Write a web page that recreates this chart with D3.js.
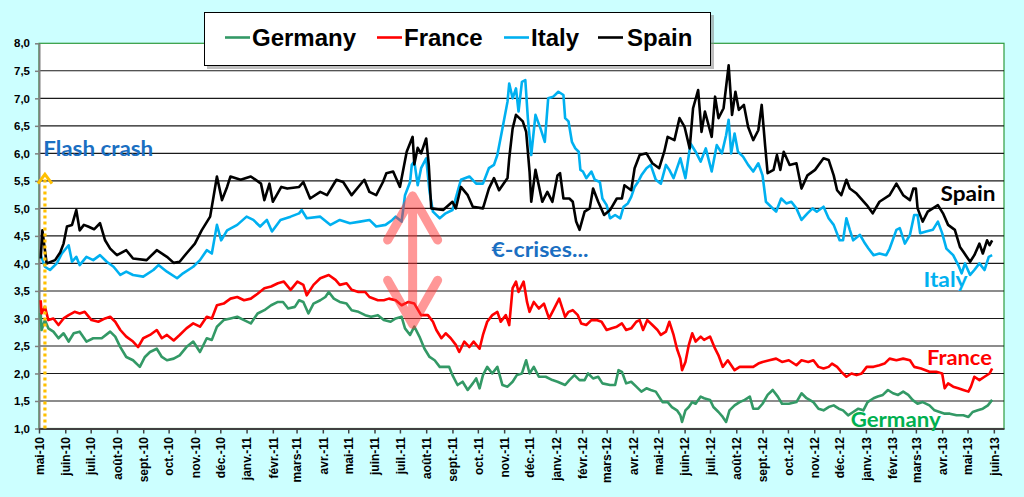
<!DOCTYPE html>
<html>
<head>
<meta charset="utf-8">
<script src="https://cdn.jsdelivr.net/npm/d3@7"></script>
<style>
  body { margin: 0; background: #ccffff; }
  svg { display: block; font-family: 'Liberation Sans', Arial, sans-serif; }
  .axis text { font-size: 11.5px; font-weight: bold; fill: #000; }
  .xaxis text { font-size: 12px; }
  .note { font-family: Lato, 'Open Sans', sans-serif; font-weight: bold; }
  .legend text { font-size: 24px; font-weight: bold; }
</style>
</head>
<body>
<div class="chart"></div>
<script>
// 10y government bond yields (%)
const germany = [
  ['2010-05-03', 3.1], ['2010-05-04', 2.79], ['2010-05-08', 2.97], ['2010-05-12', 2.82], ['2010-05-18', 2.76], ['2010-05-24', 2.64],
  ['2010-05-30', 2.73], ['2010-06-05', 2.58], ['2010-06-11', 2.73], ['2010-06-18', 2.76], ['2010-06-26', 2.58], ['2010-07-04', 2.64],
  ['2010-07-14', 2.64], ['2010-07-24', 2.76], ['2010-07-30', 2.67], ['2010-08-05', 2.48], ['2010-08-12', 2.3], ['2010-08-20', 2.24],
  ['2010-08-28', 2.12], ['2010-09-03', 2.3], ['2010-09-09', 2.39], ['2010-09-17', 2.45], ['2010-09-23', 2.3], ['2010-09-29', 2.24],
  ['2010-10-07', 2.27], ['2010-10-14', 2.33], ['2010-10-22', 2.48], ['2010-10-30', 2.58], ['2010-11-07', 2.39], ['2010-11-15', 2.64],
  ['2010-11-21', 2.61], ['2010-11-27', 2.85], ['2010-12-05', 2.97], ['2010-12-13', 3.0], ['2010-12-21', 3.03], ['2010-12-29', 2.97],
  ['2011-01-06', 2.91], ['2011-01-14', 3.09], ['2011-01-22', 3.15], ['2011-01-30', 3.24], ['2011-02-07', 3.3], ['2011-02-13', 3.3],
  ['2011-02-19', 3.18], ['2011-02-27', 3.21], ['2011-03-04', 3.33], ['2011-03-09', 3.3], ['2011-03-15', 3.09], ['2011-03-21', 3.27],
  ['2011-03-29', 3.33], ['2011-04-04', 3.39], ['2011-04-08', 3.48], ['2011-04-14', 3.36], ['2011-04-21', 3.3], ['2011-04-29', 3.27],
  ['2011-05-05', 3.15], ['2011-05-13', 3.12], ['2011-05-21', 3.06], ['2011-05-28', 3.03], ['2011-06-05', 3.06], ['2011-06-12', 2.97],
  ['2011-06-20', 2.94], ['2011-06-26', 3.0], ['2011-07-03', 3.03], ['2011-07-07', 2.82], ['2011-07-13', 2.7], ['2011-07-18', 2.85],
  ['2011-07-24', 2.67], ['2011-07-30', 2.45], ['2011-08-05', 2.3], ['2011-08-11', 2.24], ['2011-08-17', 2.12], ['2011-08-22', 2.12],
  ['2011-08-28', 2.12], ['2011-09-01', 1.97], ['2011-09-07', 1.79], ['2011-09-13', 1.85], ['2011-09-19', 1.7], ['2011-09-25', 1.82],
  ['2011-09-29', 1.91], ['2011-10-03', 1.73], ['2011-10-07', 1.97], ['2011-10-12', 2.12], ['2011-10-18', 2.0], ['2011-10-24', 2.12],
  ['2011-10-30', 1.79], ['2011-11-05', 1.76], ['2011-11-11', 1.85], ['2011-11-16', 1.97], ['2011-11-22', 2.0], ['2011-11-27', 2.24],
  ['2011-12-01', 2.0], ['2011-12-06', 2.12], ['2011-12-12', 1.94], ['2011-12-20', 1.94], ['2011-12-28', 1.88], ['2012-01-03', 1.85],
  ['2012-01-12', 1.79], ['2012-01-17', 1.88], ['2012-01-23', 1.97], ['2012-01-29', 1.88], ['2012-02-04', 1.88], ['2012-02-08', 2.0],
  ['2012-02-14', 1.91], ['2012-02-20', 1.94], ['2012-02-25', 1.82], ['2012-03-05', 1.79], ['2012-03-11', 1.79], ['2012-03-15', 2.06],
  ['2012-03-19', 2.03], ['2012-03-24', 1.82], ['2012-03-30', 1.85], ['2012-04-05', 1.76], ['2012-04-11', 1.67], ['2012-04-17', 1.73],
  ['2012-04-22', 1.7], ['2012-04-28', 1.67], ['2012-05-06', 1.48], ['2012-05-12', 1.48], ['2012-05-17', 1.39], ['2012-05-23', 1.33],
  ['2012-05-27', 1.24], ['2012-05-29', 1.12], ['2012-06-02', 1.33], ['2012-06-06', 1.39], ['2012-06-10', 1.48], ['2012-06-14', 1.45],
  ['2012-06-20', 1.58], ['2012-06-24', 1.55], ['2012-07-01', 1.52], ['2012-07-05', 1.39], ['2012-07-11', 1.3], ['2012-07-16', 1.21],
  ['2012-07-20', 1.12], ['2012-07-24', 1.33], ['2012-07-30', 1.42], ['2012-08-05', 1.48], ['2012-08-11', 1.52], ['2012-08-17', 1.58],
  ['2012-08-21', 1.36], ['2012-08-27', 1.36], ['2012-09-01', 1.45], ['2012-09-07', 1.61], ['2012-09-13', 1.7], ['2012-09-19', 1.58],
  ['2012-09-24', 1.45], ['2012-10-02', 1.45], ['2012-10-11', 1.48], ['2012-10-17', 1.64], ['2012-10-23', 1.55], ['2012-10-31', 1.48],
  ['2012-11-06', 1.36], ['2012-11-12', 1.33], ['2012-11-18', 1.39], ['2012-11-24', 1.42], ['2012-11-30', 1.36], ['2012-12-05', 1.33],
  ['2012-12-11', 1.24], ['2012-12-17', 1.3], ['2012-12-23', 1.36], ['2012-12-29', 1.33], ['2013-01-03', 1.48], ['2013-01-10', 1.55],
  ['2013-01-15', 1.58], ['2013-01-21', 1.61], ['2013-01-27', 1.7], ['2013-02-02', 1.64], ['2013-02-08', 1.61], ['2013-02-14', 1.67],
  ['2013-02-20', 1.61], ['2013-02-25', 1.52], ['2013-03-03', 1.45], ['2013-03-09', 1.48], ['2013-03-17', 1.42], ['2013-03-23', 1.33],
  ['2013-03-29', 1.3], ['2013-04-04', 1.27], ['2013-04-10', 1.27], ['2013-04-18', 1.24], ['2013-04-26', 1.24], ['2013-05-02', 1.21],
  ['2013-05-07', 1.3], ['2013-05-13', 1.33], ['2013-05-19', 1.36], ['2013-05-25', 1.42], ['2013-05-30', 1.52]
]

const france = [
  ['2010-05-03', 3.33], ['2010-05-04', 3.09], ['2010-05-08', 3.21], ['2010-05-12', 2.97], ['2010-05-18', 3.0], ['2010-05-24', 2.88],
  ['2010-05-30', 3.0], ['2010-06-05', 3.06], ['2010-06-12', 3.12], ['2010-06-18', 3.09], ['2010-06-24', 3.12], ['2010-07-02', 2.97],
  ['2010-07-10', 2.94], ['2010-07-18', 3.0], ['2010-07-24', 3.03], ['2010-07-30', 2.94], ['2010-08-05', 2.79], ['2010-08-12', 2.67],
  ['2010-08-20', 2.58], ['2010-08-26', 2.48], ['2010-09-01', 2.64], ['2010-09-09', 2.7], ['2010-09-17', 2.79], ['2010-09-23', 2.64],
  ['2010-09-29', 2.7], ['2010-10-07', 2.6], ['2010-10-14', 2.7], ['2010-10-22', 2.82], ['2010-10-30', 2.91], ['2010-11-07', 2.85],
  ['2010-11-15', 3.03], ['2010-11-21', 3.0], ['2010-11-27', 3.24], ['2010-12-05', 3.27], ['2010-12-13', 3.36], ['2010-12-21', 3.39],
  ['2010-12-29', 3.33], ['2011-01-06', 3.36], ['2011-01-14', 3.45], ['2011-01-22', 3.55], ['2011-01-30', 3.58], ['2011-02-07', 3.64],
  ['2011-02-14', 3.67], ['2011-02-22', 3.52], ['2011-03-02', 3.67], ['2011-03-09', 3.61], ['2011-03-13', 3.42], ['2011-03-21', 3.61],
  ['2011-03-29', 3.73], ['2011-04-08', 3.79], ['2011-04-16', 3.7], ['2011-04-21', 3.61], ['2011-04-29', 3.64], ['2011-05-05', 3.52],
  ['2011-05-13', 3.48], ['2011-05-21', 3.48], ['2011-05-26', 3.39], ['2011-06-05', 3.33], ['2011-06-12', 3.33], ['2011-06-18', 3.36],
  ['2011-06-26', 3.33], ['2011-07-03', 3.24], ['2011-07-11', 3.3], ['2011-07-18', 3.27], ['2011-07-26', 3.06], ['2011-08-03', 3.06],
  ['2011-08-09', 2.94], ['2011-08-13', 2.79], ['2011-08-19', 2.64], ['2011-08-24', 2.73], ['2011-08-30', 2.64], ['2011-09-05', 2.52],
  ['2011-09-09', 2.39], ['2011-09-15', 2.58], ['2011-09-21', 2.48], ['2011-09-26', 2.58], ['2011-10-03', 2.45], ['2011-10-07', 2.7],
  ['2011-10-12', 2.94], ['2011-10-18', 3.06], ['2011-10-24', 3.12], ['2011-10-28', 2.94], ['2011-11-03', 3.06], ['2011-11-07', 2.88],
  ['2011-11-11', 3.55], ['2011-11-15', 3.67], ['2011-11-18', 3.48], ['2011-11-24', 3.67], ['2011-11-28', 3.3], ['2011-12-01', 3.12],
  ['2011-12-06', 3.3], ['2011-12-12', 3.18], ['2011-12-18', 3.27], ['2011-12-24', 3.0], ['2011-12-30', 3.18], ['2012-01-05', 3.36],
  ['2012-01-12', 3.03], ['2012-01-16', 3.12], ['2012-01-21', 3.15], ['2012-01-27', 3.06], ['2012-01-31', 2.91], ['2012-02-06', 2.88],
  ['2012-02-12', 2.97], ['2012-02-18', 2.97], ['2012-02-24', 2.94], ['2012-03-01', 2.79], ['2012-03-07', 2.82], ['2012-03-13', 2.85],
  ['2012-03-19', 2.91], ['2012-03-24', 2.79], ['2012-03-30', 2.82], ['2012-04-05', 2.94], ['2012-04-09', 2.97], ['2012-04-13', 2.79],
  ['2012-04-18', 2.97], ['2012-04-24', 2.88], ['2012-04-30', 2.79], ['2012-05-04', 2.7], ['2012-05-10', 2.76], ['2012-05-14', 2.94],
  ['2012-05-19', 2.7], ['2012-05-23', 2.45], ['2012-05-27', 2.27], ['2012-05-29', 2.06], ['2012-06-02', 2.21], ['2012-06-06', 2.52],
  ['2012-06-10', 2.73], ['2012-06-14', 2.58], ['2012-06-20', 2.67], ['2012-06-24', 2.61], ['2012-07-01', 2.67], ['2012-07-07', 2.45],
  ['2012-07-11', 2.33], ['2012-07-16', 2.12], ['2012-07-22', 2.24], ['2012-07-30', 2.06], ['2012-08-05', 2.12], ['2012-08-13', 2.12],
  ['2012-08-21', 2.12], ['2012-08-27', 2.18], ['2012-09-01', 2.21], ['2012-09-09', 2.24], ['2012-09-17', 2.27], ['2012-09-24', 2.21],
  ['2012-10-02', 2.24], ['2012-10-11', 2.15], ['2012-10-17', 2.24], ['2012-10-25', 2.21], ['2012-10-31', 2.24], ['2012-11-06', 2.12],
  ['2012-11-12', 2.09], ['2012-11-18', 2.12], ['2012-11-22', 2.18], ['2012-11-28', 2.12], ['2012-12-03', 2.03], ['2012-12-09', 1.94],
  ['2012-12-15', 2.0], ['2012-12-21', 1.97], ['2012-12-27', 2.0], ['2013-01-02', 2.12], ['2013-01-10', 2.12], ['2013-01-17', 2.15],
  ['2013-01-23', 2.18], ['2013-01-29', 2.27], ['2013-02-06', 2.24], ['2013-02-14', 2.27], ['2013-02-22', 2.24], ['2013-02-27', 2.12],
  ['2013-03-07', 2.09], ['2013-03-17', 2.03], ['2013-03-25', 2.03], ['2013-04-01', 2.0], ['2013-04-04', 1.73], ['2013-04-08', 1.82],
  ['2013-04-14', 1.76], ['2013-04-20', 1.73], ['2013-04-26', 1.7], ['2013-05-02', 1.67], ['2013-05-05', 1.76], ['2013-05-09', 1.94],
  ['2013-05-15', 1.88], ['2013-05-21', 1.94], ['2013-05-27', 2.0], ['2013-05-30', 2.09]
]

const italy = [
  ['2010-05-03', 4.15], ['2010-05-08', 3.94], ['2010-05-14', 3.88], ['2010-05-22', 4.0], ['2010-05-28', 4.18], ['2010-06-05', 4.33],
  ['2010-06-09', 4.03], ['2010-06-14', 4.12], ['2010-06-18', 3.97], ['2010-06-26', 4.12], ['2010-07-04', 4.06], ['2010-07-12', 4.15],
  ['2010-07-20', 4.03], ['2010-07-28', 3.94], ['2010-08-05', 3.79], ['2010-08-12', 3.85], ['2010-08-20', 3.79], ['2010-09-01', 3.76],
  ['2010-09-13', 3.88], ['2010-09-19', 3.97], ['2010-09-29', 3.85], ['2010-10-11', 3.73], ['2010-10-18', 3.82], ['2010-10-30', 3.94],
  ['2010-11-07', 4.06], ['2010-11-15', 4.24], ['2010-11-21', 4.18], ['2010-11-27', 4.7], ['2010-12-02', 4.42], ['2010-12-09', 4.6],
  ['2010-12-21', 4.7], ['2011-01-01', 4.85], ['2011-01-09', 4.79], ['2011-01-17', 4.67], ['2011-01-25', 4.79], ['2011-01-31', 4.58],
  ['2011-02-10', 4.79], ['2011-02-22', 4.85], ['2011-03-04', 4.91], ['2011-03-07', 4.97], ['2011-03-13', 4.82], ['2011-03-29', 4.85],
  ['2011-04-10', 4.7], ['2011-04-21', 4.79], ['2011-05-03', 4.73], ['2011-05-15', 4.76], ['2011-05-26', 4.79], ['2011-06-03', 4.67],
  ['2011-06-14', 4.7], ['2011-06-22', 4.79], ['2011-06-26', 4.85], ['2011-07-03', 4.76], ['2011-07-07', 5.24], ['2011-07-13', 5.48],
  ['2011-07-15', 5.79], ['2011-07-18', 5.85], ['2011-07-22', 5.42], ['2011-07-26', 5.73], ['2011-08-01', 5.91], ['2011-08-05', 5.3],
  ['2011-08-09', 4.94], ['2011-08-17', 4.82], ['2011-08-24', 4.91], ['2011-09-01', 4.97], ['2011-09-07', 5.3], ['2011-09-11', 5.52],
  ['2011-09-21', 5.58], ['2011-09-29', 5.45], ['2011-10-07', 5.45], ['2011-10-14', 5.73], ['2011-10-20', 5.79], ['2011-10-24', 5.97],
  ['2011-10-30', 6.45], ['2011-11-05', 6.94], ['2011-11-07', 7.27], ['2011-11-11', 7.0], ['2011-11-15', 7.18], ['2011-11-18', 6.76],
  ['2011-11-22', 7.3], ['2011-11-26', 7.33], ['2011-11-29', 6.64], ['2011-12-03', 5.97], ['2011-12-08', 6.7], ['2011-12-14', 6.45],
  ['2011-12-19', 6.21], ['2011-12-23', 7.0], ['2011-12-29', 7.03], ['2012-01-04', 7.12], ['2012-01-10', 7.06], ['2012-01-12', 6.64],
  ['2012-01-16', 6.58], ['2012-01-20', 6.21], ['2012-01-24', 6.09], ['2012-01-28', 6.03], ['2012-01-30', 5.7], ['2012-02-02', 5.67],
  ['2012-02-06', 5.55], ['2012-02-12', 5.67], ['2012-02-16', 5.52], ['2012-02-22', 5.48], ['2012-02-25', 5.18], ['2012-03-01', 5.06],
  ['2012-03-05', 4.82], ['2012-03-11', 4.88], ['2012-03-17', 4.82], ['2012-03-21', 5.03], ['2012-03-26', 5.09], ['2012-03-30', 5.21],
  ['2012-04-03', 5.39], ['2012-04-07', 5.48], ['2012-04-11', 5.6], ['2012-04-17', 5.73], ['2012-04-22', 5.79], ['2012-04-28', 5.52],
  ['2012-05-04', 5.45], ['2012-05-10', 5.79], ['2012-05-14', 5.7], ['2012-05-19', 5.55], ['2012-05-27', 5.91], ['2012-06-02', 5.55],
  ['2012-06-08', 6.18], ['2012-06-14', 6.03], ['2012-06-20', 5.85], ['2012-06-26', 6.09], ['2012-07-03', 5.67], ['2012-07-09', 6.15],
  ['2012-07-15', 6.0], ['2012-07-20', 6.33], ['2012-07-23', 6.61], ['2012-07-26', 6.0], ['2012-07-30', 6.36], ['2012-08-03', 6.03],
  ['2012-08-09', 5.94], ['2012-08-15', 5.79], ['2012-08-21', 5.67], ['2012-08-27', 5.82], ['2012-09-01', 5.6], ['2012-09-05', 5.12],
  ['2012-09-11', 5.03], ['2012-09-17', 4.94], ['2012-09-23', 5.18], ['2012-09-29', 5.09], ['2012-10-05', 5.12], ['2012-10-11', 5.0],
  ['2012-10-17', 4.79], ['2012-10-24', 4.91], ['2012-10-30', 5.0], ['2012-11-04', 4.94], ['2012-11-12', 5.03], ['2012-11-18', 4.82],
  ['2012-11-24', 4.7], ['2012-12-01', 4.42], ['2012-12-05', 4.42], ['2012-12-09', 4.82], ['2012-12-13', 4.61], ['2012-12-17', 4.42],
  ['2012-12-25', 4.52], ['2012-12-31', 4.36], ['2013-01-04', 4.27], ['2013-01-10', 4.15], ['2013-01-17', 4.18], ['2013-01-25', 4.15],
  ['2013-01-29', 4.27], ['2013-02-06', 4.61], ['2013-02-10', 4.64], ['2013-02-16', 4.36], ['2013-02-22', 4.52], ['2013-02-27', 4.88],
  ['2013-03-03', 4.88], ['2013-03-06', 4.55], ['2013-03-13', 4.58], ['2013-03-21', 4.61], ['2013-03-27', 4.76], ['2013-04-01', 4.55],
  ['2013-04-06', 4.27], ['2013-04-14', 4.15], ['2013-04-20', 3.97], ['2013-04-24', 3.82], ['2013-04-28', 4.0], ['2013-05-04', 3.79],
  ['2013-05-09', 3.88], ['2013-05-15', 4.0], ['2013-05-21', 3.88], ['2013-05-26', 4.12], ['2013-05-30', 4.15]
]

const spain = [
  ['2010-05-03', 4.09], ['2010-05-05', 4.6], ['2010-05-10', 4.0], ['2010-05-20', 4.06], ['2010-05-26', 4.2], ['2010-05-30', 4.36],
  ['2010-06-03', 4.67], ['2010-06-09', 4.7], ['2010-06-14', 4.97], ['2010-06-18', 4.6], ['2010-06-23', 4.7], ['2010-06-28', 4.67],
  ['2010-07-05', 4.62], ['2010-07-12', 4.73], ['2010-07-18', 4.42], ['2010-07-24', 4.27], ['2010-08-01', 4.15], ['2010-08-12', 4.24],
  ['2010-08-20', 4.09], ['2010-09-05', 4.06], ['2010-09-17', 4.24], ['2010-09-29', 4.12], ['2010-10-07', 4.01], ['2010-10-14', 4.03],
  ['2010-10-22', 4.18], ['2010-11-01', 4.36], ['2010-11-09', 4.6], ['2010-11-19', 4.85], ['2010-11-23', 5.21], ['2010-11-27', 5.58],
  ['2010-12-03', 5.15], ['2010-12-09', 5.39], ['2010-12-13', 5.58], ['2010-12-25', 5.52], ['2011-01-06', 5.58], ['2011-01-18', 5.45],
  ['2011-01-22', 5.15], ['2011-01-28', 5.45], ['2011-02-01', 5.12], ['2011-02-11', 5.39], ['2011-02-18', 5.36], ['2011-03-04', 5.39],
  ['2011-03-09', 5.48], ['2011-03-17', 5.18], ['2011-03-29', 5.3], ['2011-04-06', 5.24], ['2011-04-17', 5.52], ['2011-04-25', 5.48],
  ['2011-05-05', 5.24], ['2011-05-20', 5.52], ['2011-05-26', 5.3], ['2011-06-03', 5.24], ['2011-06-11', 5.48], ['2011-06-15', 5.64],
  ['2011-06-23', 5.67], ['2011-07-01', 5.39], ['2011-07-09', 6.03], ['2011-07-16', 6.3], ['2011-07-18', 5.8], ['2011-07-22', 6.1],
  ['2011-07-26', 6.0], ['2011-08-01', 6.27], ['2011-08-04', 5.8], ['2011-08-07', 5.0], ['2011-08-21', 4.97], ['2011-09-01', 5.12],
  ['2011-09-05', 5.0], ['2011-09-11', 5.39], ['2011-09-19', 5.24], ['2011-09-25', 5.03], ['2011-10-07', 5.0], ['2011-10-14', 5.36],
  ['2011-10-20', 5.55], ['2011-10-26', 5.33], ['2011-11-05', 5.55], ['2011-11-07', 5.91], ['2011-11-11', 6.45], ['2011-11-15', 6.7],
  ['2011-11-23', 6.58], ['2011-11-27', 6.39], ['2011-12-01', 5.67], ['2011-12-03', 5.12], ['2011-12-08', 5.7], ['2011-12-16', 5.12],
  ['2011-12-22', 5.3], ['2011-12-28', 5.12], ['2012-01-03', 5.6], ['2012-01-06', 5.64], ['2012-01-10', 5.18], ['2012-01-17', 5.18],
  ['2012-01-21', 5.12], ['2012-01-25', 4.76], ['2012-01-29', 4.61], ['2012-02-04', 4.94], ['2012-02-10', 5.0], ['2012-02-14', 5.36],
  ['2012-02-20', 5.12], ['2012-02-27', 4.88], ['2012-03-05', 4.97], ['2012-03-13', 5.18], ['2012-03-19', 5.18], ['2012-03-22', 5.42],
  ['2012-03-30', 5.33], ['2012-04-03', 5.73], ['2012-04-09', 5.97], ['2012-04-17', 6.0], ['2012-04-24', 5.82], ['2012-05-02', 5.73],
  ['2012-05-08', 6.03], ['2012-05-12', 6.3], ['2012-05-20', 6.24], ['2012-05-26', 6.64], ['2012-06-01', 6.48], ['2012-06-07', 6.09],
  ['2012-06-11', 6.82], ['2012-06-17', 7.15], ['2012-06-21', 6.39], ['2012-06-25', 6.76], ['2012-07-03', 6.3], ['2012-07-07', 7.03],
  ['2012-07-11', 6.64], ['2012-07-17', 6.82], ['2012-07-23', 7.6], ['2012-07-27', 6.7], ['2012-07-31', 7.12], ['2012-08-04', 6.79],
  ['2012-08-10', 6.88], ['2012-08-15', 6.48], ['2012-08-21', 6.24], ['2012-08-27', 6.42], ['2012-08-31', 6.88], ['2012-09-04', 6.15],
  ['2012-09-07', 5.64], ['2012-09-14', 5.7], ['2012-09-18', 5.97], ['2012-09-22', 5.7], ['2012-09-26', 6.03], ['2012-10-03', 5.79],
  ['2012-10-11', 5.82], ['2012-10-17', 5.36], ['2012-10-24', 5.6], ['2012-11-02', 5.7], ['2012-11-12', 5.91], ['2012-11-18', 5.88],
  ['2012-11-24', 5.6], ['2012-11-28', 5.33], ['2012-12-03', 5.24], ['2012-12-09', 5.52], ['2012-12-13', 5.36], ['2012-12-21', 5.27],
  ['2013-01-02', 5.06], ['2013-01-09', 4.91], ['2013-01-17', 5.12], ['2013-01-29', 5.24], ['2013-02-06', 5.45], ['2013-02-14', 5.24],
  ['2013-02-22', 5.15], ['2013-02-26', 5.36], ['2013-03-01', 5.36], ['2013-03-03', 5.0], ['2013-03-09', 4.76], ['2013-03-15', 4.94],
  ['2013-03-27', 5.06], ['2013-04-02', 4.91], ['2013-04-08', 4.7], ['2013-04-16', 4.61], ['2013-04-22', 4.3], ['2013-04-26', 4.21],
  ['2013-05-04', 4.03], ['2013-05-09', 4.15], ['2013-05-15', 4.36], ['2013-05-19', 4.18], ['2013-05-24', 4.42], ['2013-05-27', 4.33],
  ['2013-05-30', 4.42]
]

const seriesNames = ['Germany', 'France', 'Italy', 'Spain']
const yTicks = [1.0, 1.5, 2.0, 2.5, 3.0, 3.5, 4.0, 4.5, 5.0, 5.5, 6.0, 6.5, 7.0, 7.5, 8.0]
const monthNames = ['janv.', 'févr.', 'mars', 'avr.', 'mai', 'juin', 'juil.', 'août', 'sept.', 'oct.', 'nov.', 'déc.']

// annotations: [text, date, value]
const flashCrash = '2010-05-08'
const crisisArrow = ['2011-07-16', 5.28, 2.84]
const notes = [
  ['Flash crash', '2010-05-06', 5.96, '#1b6fc2', 110],
  ['€-crises...', '2011-10-17', 4.12, '#1b6fc2', 97],
  ['Spain', '2013-03-30', 5.13, '#000000', 55],
  ['Italy', '2013-03-10', 3.57, '#00b0f0', 44],
  ['France', '2013-03-14', 2.15, '#ff0000', 65],
  ['Germany', '2012-12-14', 1.03, '#00b050', 90]
]

class SpreadChart {

  constructor(options) {
    this.fullWidth = options.width
    this.fullHeight = options.height
    this.plot = { left: 39, right: 1004, top: 43.3, bottom: 428.5 }
    this.colours = ['#339966', '#ff0000', '#00b0f0', '#000000']
    this.parse = d3.timeParse('%Y-%m-%d')
    this.series = [germany, france, italy, spain].map(s => s.map(d => ({ date: this.parse(d[0]), value: d[1] })))
  }

  render() {
    this.svg = this.createCanvas()
    this.prepareScales()
    this.drawPlotArea()
    this.createAxes()
    this.drawLines()
    this.drawAnnotations()
    this.drawLegend()
  }

  createCanvas() {
    return d3.select('.chart')
      .append('svg')
      .attr('width', this.fullWidth)
      .attr('height', this.fullHeight)
  }

  prepareScales() {
    this.x = d3.scaleTime()
      .domain([new Date(2010, 4, 1), new Date(2013, 5, 13)])
      .range([this.plot.left, this.plot.right])
    this.y = d3.scaleLinear()
      .domain([1, 8])
      .range([this.plot.bottom, this.plot.top])
  }

  drawPlotArea() {
    let p = this.plot
    this.svg.append('rect')
      .attr('x', p.left)
      .attr('y', p.top)
      .attr('width', p.right - p.left)
      .attr('height', p.bottom - p.top)
      .style('fill', '#fff')
      .style('stroke', '#2e9b3e')
      .style('stroke-width', 1.2)

    // horizontal gridlines
    this.svg.append('g')
      .selectAll('line')
      .data(yTicks.slice(1, -1))
      .enter().append('line')
        .attr('x1', p.left)
        .attr('x2', p.right)
        .attr('y1', d => this.y(d))
        .attr('y2', d => this.y(d))
        .style('stroke', '#1a1a1a')
        .style('stroke-width', 1.1)
  }

  createAxes() {
    let p = this.plot
    let months = d3.timeMonth.range(new Date(2010, 4, 1), new Date(2013, 5, 2))

    let gY = this.svg.append('g')
      .attr('class', 'axis')
      .attr('transform', `translate(${p.left}, 0)`)
      .call(d3.axisLeft(this.y)
        .tickValues(yTicks)
        .tickSize(4)
        .tickSizeOuter(0)
        .tickPadding(5)
        .tickFormat(d => d3.format('.1f')(d).replace('.', ',')))
    gY.select('.domain').style('stroke', '#7f7f7f').style('stroke-width', 2)
    gY.selectAll('.tick line').style('stroke', '#7f7f7f').style('stroke-width', 1.5)

    let gX = this.svg.append('g')
      .attr('class', 'axis xaxis')
      .attr('transform', `translate(0, ${p.bottom})`)
      .call(d3.axisBottom(this.x)
        .tickValues(months)
        .tickSize(5)
        .tickSizeOuter(0)
        .tickFormat(d => monthNames[d.getMonth()] + '-' + String(d.getFullYear()).slice(2)))
    gX.select('.domain').style('stroke', '#404040').style('stroke-width', 2)
    gX.selectAll('.tick line').style('stroke', '#404040').style('stroke-width', 1.5)
    gX.selectAll('.tick text')
      .attr('transform', 'rotate(-90)')
      .attr('x', -8.5)
      .attr('y', 0)
      .attr('dy', '0.35em')
      .style('text-anchor', 'end')
  }

  drawLines() {
    let line = d3.line()
      .x(d => this.x(d.date))
      .y(d => this.y(d.value))

    this.svg.append('g')
      .selectAll('path')
      .data(this.series)
      .enter().append('path')
        .attr('d', line)
        .style('fill', 'none')
        .style('stroke', (d, i) => this.colours[i])
        .style('stroke-width', 2.6)
        .style('stroke-linejoin', 'round')
  }

  drawAnnotations() {
    let g = this.svg.append('g')

    // Flash crash marker
    let fx = this.x(this.parse(flashCrash))
    g.append('line')
      .attr('x1', fx).attr('x2', fx)
      .attr('y1', this.plot.bottom).attr('y2', this.y(5.55))
      .style('stroke', '#ffc000')
      .style('stroke-width', 3.2)
      .style('stroke-dasharray', '3,3')
    g.append('path')
      .attr('d', `M${fx - 7},${this.y(5.45)} L${fx},${this.y(5.62)} L${fx + 7},${this.y(5.45)}`)
      .style('fill', 'none')
      .style('stroke', '#ffc000')
      .style('stroke-width', 3)

    // double arrow between core and periphery
    let ax = this.x(this.parse(crisisArrow[0])),
        top = this.y(crisisArrow[1]),
        bottom = this.y(crisisArrow[2])
    g.append('path')
      .attr('d', `M${ax},${top + 3} L${ax},${bottom - 3}
                  M${ax - 25},${top + 47} L${ax},${top + 3} L${ax + 25},${top + 47}
                  M${ax - 25},${bottom - 47} L${ax},${bottom - 3} L${ax + 25},${bottom - 47}`)
      .style('fill', 'none')
      .style('stroke', '#ff3030')
      .style('stroke-opacity', 0.5)
      .style('stroke-width', 9)
      .style('stroke-linecap', 'round')
      .style('stroke-linejoin', 'round')

    g.selectAll('text')
      .data(notes)
      .enter().append('text')
        .attr('class', 'note')
        .attr('x', d => this.x(this.parse(d[1])))
        .attr('y', d => this.y(d[2]))
        .attr('textLength', d => d[4])
        .attr('lengthAdjust', 'spacingAndGlyphs')
        .style('font-size', '21px')
        .style('fill', d => d[3])
        .text(d => d[0])
  }

  drawLegend() {
    let g = this.svg.append('g').attr('class', 'legend')
    g.append('rect')
      .attr('x', 207).attr('y', 15)
      .attr('width', 507).attr('height', 54)
      .style('fill', '#8a8a8a').style('opacity', 0.55)
    g.append('rect')
      .attr('x', 204.5).attr('y', 12.5)
      .attr('width', 506).attr('height', 53)
      .style('fill', '#fff').style('stroke', '#000').style('stroke-width', 1)

    let starts = [225, 377, 504, 598]
    let item = g.selectAll('.item')
      .data(seriesNames)
      .enter().append('g')
        .attr('class', 'item')
        .attr('transform', (d, i) => `translate(${starts[i]}, 37.5)`)
    item.append('line')
      .attr('x1', 0).attr('x2', 25)
      .style('stroke', (d, i) => this.colours[i])
      .style('stroke-width', 2.6)
    item.append('text')
      .attr('x', (d, i) => i === 3 ? 29 : 27)
      .attr('y', 8.3)
      .text(d => d)
  }
}

new SpreadChart({ width: 1024, height: 497 }).render()
</script>
</body>
</html>
